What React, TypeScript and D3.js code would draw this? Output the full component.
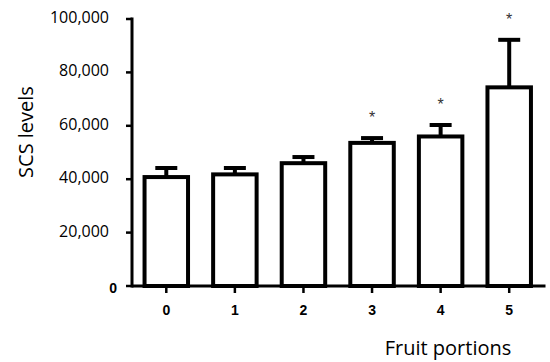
import React from "react";
import * as d3 from "d3";

const categories = ["0", "1", "2", "3", "4", "5"];
const means = [40800, 41800, 46000, 53600, 56000, 74400];
const errors = [3400, 2400, 2300, 1800, 4300, 17800];
const significant = [false, false, false, true, true, true];
const yTicks = [0, 20000, 40000, 60000, 80000, 100000];
const yLabel = "SCS levels";
const xLabel = "Fruit portions";

export default function App() {
  const W = 550, H = 362;
  const x0 = 132, x1 = 543.5, yTop = 19, yBot = 286;
  const x = d3.scaleBand<string>().domain(categories).range([x0, x1]).paddingInner(0.366).paddingOuter(0.183);
  const y = d3.scaleLinear().domain([0, 100000]).range([yBot, yTop]);
  const fmt = d3.format(",");
  const bw = x.bandwidth();
  const capW = 22;
  return (
    <svg width={W} height={H} style={{ position: "absolute", left: 0, top: 0, background: "#fff" }}>
      {/* bars */}
      {categories.map((c, i) => {
        const cx = (x(c) as number) + bw / 2;
        const top = y(means[i]);
        const up = y(means[i] + errors[i]);
        return (
          <g key={c}>
            <line x1={cx} x2={cx} y1={top} y2={up} stroke="#000" strokeWidth={4} />
            <line x1={cx - capW / 2} x2={cx + capW / 2} y1={up} y2={up} stroke="#000" strokeWidth={4} />
            <rect x={x(c)} y={top} width={bw} height={yBot - top} fill="#fff" stroke="#000" strokeWidth={4} />
            {significant[i] && (
              <text x={cx} y={up - 24 + 9} textAnchor="middle" fontFamily="Liberation Sans, Arial" fontSize={16} fill="#333">*</text>
            )}
          </g>
        );
      })}
      {/* y axis */}
      <line x1={x0} x2={x0} y1={yTop - 1.5} y2={yBot + 1.5} stroke="#000" strokeWidth={3} />
      {yTicks.map((t) => (
        <g key={t}>
          <line x1={x0 - 6} x2={x0} y1={y(t)} y2={y(t)} stroke="#000" strokeWidth={2.5} />
          {t === 0 ? (
            <text x={117} y={y(t) + 7} textAnchor="end" fontFamily="Liberation Sans, Arial" fontWeight="bold" fontSize={14} fill="#000">{fmt(t)}</text>
          ) : (
            <text x={109} y={y(t) + 4} textAnchor="end" fontFamily="Open Sans" fontSize={16} fill="#000">{fmt(t)}</text>
          )}
        </g>
      ))}
      {/* x axis */}
      <line x1={x0} x2={x1 + 2} y1={yBot} y2={yBot} stroke="#000" strokeWidth={3} />
      {categories.map((c) => {
        const cx = (x(c) as number) + bw / 2;
        return (
          <g key={"t" + c}>
            <line x1={cx} x2={cx} y1={yBot} y2={yBot + 7} stroke="#000" strokeWidth={2.5} />
            <text x={cx} y={315} textAnchor="middle" fontFamily="Liberation Sans, Arial" fontWeight="bold" fontSize={14} fill="#000">{c}</text>
          </g>
        );
      })}
      <text transform={`translate(33,132) rotate(-90)`} textAnchor="middle" fontFamily="Open Sans" fontSize={20} fill="#000">{yLabel}</text>
      <text x={448} y={355} textAnchor="middle" fontFamily="Open Sans" fontSize={20} fill="#000">{xLabel}</text>
    </svg>
  );
}
